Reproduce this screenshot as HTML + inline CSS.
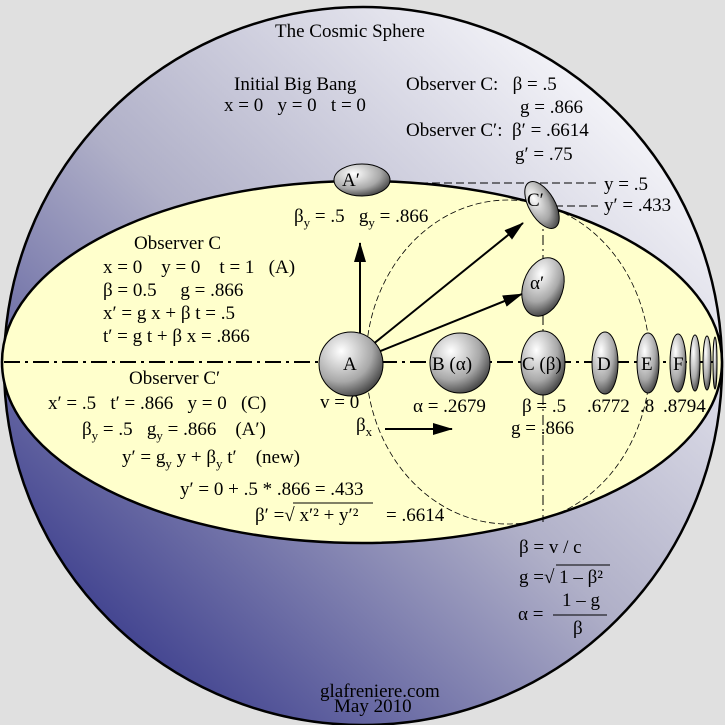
<!DOCTYPE html>
<html><head><meta charset="utf-8"><style>
html,body{margin:0;padding:0;background:#e0e0e0}
svg{display:block}
text{font-family:"Liberation Serif",serif;font-size:19px;fill:#000;white-space:pre}
</style></head><body>
<svg width="725" height="725" viewBox="0 0 725 725" xmlns="http://www.w3.org/2000/svg" xml:space="preserve">
<defs>
<linearGradient id="sph" x1="0.85" y1="0.1" x2="0.1" y2="0.9">
<stop offset="0" stop-color="#f6f6fa"/><stop offset="0.5" stop-color="#b0b0c8"/><stop offset="1" stop-color="#36388a"/>
</linearGradient>
<radialGradient id="ball" cx="0.35" cy="0.3" r="0.8">
<stop offset="0" stop-color="#ffffff"/><stop offset="0.6" stop-color="#a8a8a8"/><stop offset="1" stop-color="#303030"/>
</radialGradient>
<marker id="ar2" markerWidth="20" markerHeight="12" refX="19" refY="6" orient="auto" markerUnits="userSpaceOnUse" viewBox="0 0 20 12">
<path d="M0,0 L20,6 L0,12z" fill="#000"/></marker>
</defs>
<circle cx="363" cy="366" r="359" fill="url(#sph)" stroke="#000" stroke-width="2.5"/>
<ellipse cx="362" cy="362" rx="360" ry="181" fill="#ffffcc" stroke="#000" stroke-width="2.5"/>
<ellipse cx="508" cy="362" rx="142" ry="162" fill="none" stroke="#000" stroke-width="0.8" stroke-dasharray="6,3"/>
<line x1="4" y1="362" x2="720" y2="362" stroke="#000" stroke-width="2" stroke-dasharray="16,5,3,5"/>
<line x1="543" y1="215" x2="543" y2="522" stroke="#000" stroke-width="1" stroke-dasharray="10,4,2,4"/>
<line x1="420" y1="183" x2="600" y2="183" stroke="#000" stroke-width="1" stroke-dasharray="8,4"/>
<line x1="555" y1="206" x2="598" y2="206" stroke="#000" stroke-width="1" stroke-dasharray="8,4"/>
<line x1="360" y1="340" x2="360" y2="243" stroke="#000" stroke-width="2" marker-end="url(#ar2)"/>
<line x1="372" y1="345" x2="523" y2="223" stroke="#000" stroke-width="2" marker-end="url(#ar2)"/>
<line x1="378" y1="352" x2="522" y2="294" stroke="#000" stroke-width="2" marker-end="url(#ar2)"/>
<line x1="385" y1="429" x2="452" y2="429" stroke="#000" stroke-width="2" marker-end="url(#ar2)"/>
<g stroke="#000" stroke-width="1" fill="url(#ball)">
<circle cx="351" cy="364" r="32"/>
<circle cx="460" cy="363" r="30"/>
<ellipse cx="543" cy="363" rx="22" ry="32"/>
<ellipse cx="605" cy="363" rx="13" ry="31"/>
<ellipse cx="648" cy="363" rx="11" ry="30"/>
<ellipse cx="678" cy="363" rx="8" ry="29"/>
<ellipse cx="695" cy="363" rx="5" ry="28"/>
<ellipse cx="707" cy="363" rx="4" ry="27"/>
<ellipse cx="715" cy="363" rx="2" ry="26"/>
<ellipse cx="362" cy="180" rx="28" ry="16"/>
<ellipse cx="542" cy="205" rx="13" ry="26" transform="rotate(-30 542 205)"/>
<ellipse cx="543" cy="287" rx="20" ry="30" transform="rotate(18 543 287)"/>
</g>
<g>
<text x="343" y="370" font-size="16">A</text>
<text x="432" y="370">B (α)</text>
<text x="522" y="370">C (β)</text>
<text x="597" y="370">D</text>
<text x="641" y="370">E</text>
<text x="673" y="370">F</text>
<text x="342" y="186" font-size="16">A′</text>
<text x="527" y="206" font-size="16">C′</text>
<text x="530" y="289">α′</text>
</g>
<g>
<text x="275" y="37" font-size="23">The Cosmic Sphere</text>
<text x="234" y="90">Initial Big Bang</text>
<text x="224" y="111">x = 0   y = 0   t = 0</text>
<text x="406" y="90">Observer C:   β = .5</text>
<text x="520" y="113">g = .866</text>
<text x="406" y="136">Observer C′:  β′ = .6614</text>
<text x="515" y="160">g′ = .75</text>
<text x="604" y="190">y = .5</text>
<text x="604" y="211">y′ = .433</text>
<text x="294" y="222">β<tspan font-size="13" dy="5">y</tspan><tspan dy="-5"> = .5   g</tspan><tspan font-size="13" dy="5">y</tspan><tspan dy="-5"> = .866</tspan></text>
<text x="134" y="249">Observer C</text>
<text x="103" y="273">x = 0    y = 0    t = 1   (A)</text>
<text x="103" y="296">β = 0.5     g = .866</text>
<text x="103" y="319">x′ = g x + β t = .5</text>
<text x="103" y="342">t′ = g t + β x = .866</text>
<text x="129" y="384">Observer C′</text>
<text x="48" y="409">x′ = .5   t′ = .866   y = 0   (C)</text>
<text x="320" y="408">v = 0</text>
<text x="82" y="435">β<tspan font-size="13" dy="5">y</tspan><tspan dy="-5"> = .5   g</tspan><tspan font-size="13" dy="5">y</tspan><tspan dy="-5"> = .866    (A′)</tspan></text>
<text x="122" y="463">y′ = g<tspan font-size="13" dy="5">y</tspan><tspan dy="-5"> y + β</tspan><tspan font-size="13" dy="5">y</tspan><tspan dy="-5"> t′    (new)</tspan></text>
<text x="180" y="495">y′ = 0 + .5 * .866 = .433</text>
<text x="255" y="521">β′ =√ x′² + y′²</text>
<line x1="293" y1="503" x2="373" y2="503" stroke="#000" stroke-width="1"/>
<text x="386" y="521">= .6614</text>
<text x="356" y="431">β<tspan font-size="13" dy="5">x</tspan></text>
<text x="413" y="412">α = .2679</text>
<text x="522" y="412">β = .5</text>
<text x="511" y="434">g = .866</text>
<text x="587" y="412">.6772</text>
<text x="640" y="412">.8</text>
<text x="663" y="412">.8794</text>
<text x="519" y="553">β = v / c</text>
<text x="519" y="583">g =√ 1 – β²</text>
<line x1="556" y1="565" x2="610" y2="565" stroke="#000" stroke-width="1"/>
<text x="518" y="620">α =</text>
<text x="562" y="606">1 – g</text>
<line x1="553" y1="615" x2="607" y2="615" stroke="#000" stroke-width="1"/>
<text x="573" y="634">β</text>
<text x="320" y="697" font-size="13">glafreniere.com</text>
<text x="334" y="712" font-size="13">May 2010</text>
</g>
</svg>
</body></html>
